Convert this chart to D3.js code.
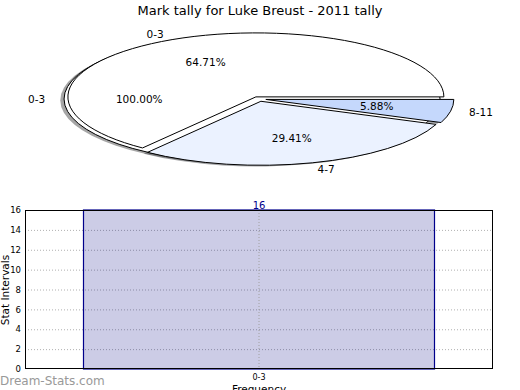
<!DOCTYPE html>
<html><head><meta charset="utf-8">
<script src="https://cdn.jsdelivr.net/npm/d3@7"></script>
<style>body{margin:0;background:#fff}svg{display:block}text{font-family:"DejaVu Sans",sans-serif}</style>
</head><body><svg id="c" width="520" height="390"></svg>
<script>
const title = "Mark tally for Luke Breust - 2011 tally";
const pieCats = ["0-3","4-7","8-11"];
const pieVals = [11, 5, 1];
const pieColors = ["#ffffff","#ebf2ff","#c5d8fc"];
const fullCats = ["0-3"];
const fullVals = [1];
const barCats = ["0-3"];
const barVals = [16];
const yTicks = [0,2,4,6,8,10,12,14,16];

const svg = d3.select("#c");
svg.append("text").attr("x",260).attr("y",15).attr("text-anchor","middle").attr("font-size",13).text(title);

// Pie geometry
const cx = 259, cy = 99, rx = 188, ry = 64, ex = 0.037;
const pie = d3.pie().sort(null).startAngle(Math.PI/2).endAngle(Math.PI/2 - 2*Math.PI);
const arc = d3.arc().innerRadius(0).outerRadius(1);
const fmt = v => v.toFixed(2) + "%";

function layout(cats, vals, colors){
  const total = d3.sum(vals);
  return pie(vals).map((d,i)=>{
    const m = (d.startAngle + d.endAngle)/2;
    const ux = Math.sin(m), uy = -Math.cos(m);
    return {d, cat:cats[i], pct:100*vals[i]/total, color:colors[i],
      ox: cx + ex*rx*ux, oy: cy + ex*ry*uy, ux, uy};
  });
}
const fullL = layout(fullCats, fullVals, ["#ffffff"]);
const mainL = layout(pieCats, pieVals, pieColors);
const all = fullL.concat(mainL);

const shadeG = svg.append("g"), wedgeG = svg.append("g"), labG = svg.append("g");
function shapePath(s){
  if (Math.abs(s.d.endAngle - s.d.startAngle) >= 2*Math.PI - 1e-6) {
    return d3.arc().innerRadius(0).outerRadius(1).startAngle(0).endAngle(2*Math.PI)();
  }
  return arc(s.d);
}
all.forEach(s=>{
  const c = d3.color(s.color);
  shadeG.append("path").attr("d", shapePath(s))
    .attr("transform",`translate(${s.ox-0.02*rx},${s.oy+0.02*ry}) scale(${rx},${ry})`)
    .attr("fill", d3.rgb(c.r*0.3,c.g*0.3,c.b*0.3)).attr("fill-opacity",0.5);
});
all.forEach(s=>{
  wedgeG.append("path").attr("d", shapePath(s))
    .attr("transform",`translate(${s.ox},${s.oy}) scale(${rx},${ry})`)
    .attr("fill", s.color).attr("stroke","#000").attr("stroke-width",1)
    .attr("vector-effect","non-scaling-stroke").attr("stroke-linejoin","miter");
});
all.forEach(s=>{
  const lx = s.ox + 1.1*rx*s.ux, ly = s.oy + 1.1*ry*s.uy;
  labG.append("text").attr("x",lx).attr("y",ly).attr("dy","0.35em")
    .attr("text-anchor", s.ux > 0 ? "start" : "end").attr("font-size",10.5).text(s.cat);
  const px = s.ox + 0.6*rx*s.ux, py = s.oy + 0.6*ry*s.uy;
  labG.append("text").attr("x",px).attr("y",py).attr("dy","0.35em")
    .attr("text-anchor","middle").attr("font-size",10.5).text(fmt(s.pct));
});

// Bar chart
const L = 25, R = 493, T = 210, B = 369;
const x = d3.scaleBand().domain(barCats).range([L,R]).paddingInner(0.25).paddingOuter(0.125);
const y = d3.scaleLinear().domain([0,16]).range([B,T]);
const g = svg.append("g");
g.selectAll("line.hg").data(yTicks.filter(t=>t>0 && t<16)).enter().append("line")
  .attr("x1",L).attr("x2",R).attr("y1",d=>y(d)+0.5).attr("y2",d=>y(d)+0.5)
  .attr("stroke","#b0b0b0").attr("stroke-dasharray","1,2");
g.selectAll("rect.bar").data(barVals).enter().append("rect")
  .attr("x",(d,i)=>x(barCats[i])).attr("width",x.bandwidth())
  .attr("y",d=>y(d)).attr("height",d=>B-y(d))
  .attr("fill","rgba(0,0,128,0.2)").attr("stroke","#00008b").attr("stroke-width",1.2);
g.selectAll("line.vg").data(barCats).enter().append("line")
  .attr("x1",d=>x(d)+x.bandwidth()/2).attr("x2",d=>x(d)+x.bandwidth()/2)
  .attr("y1",T).attr("y2",B).attr("stroke","#a0a0a0").attr("stroke-dasharray","1,2");
g.selectAll("text.val").data(barVals).enter().append("text")
  .attr("x",(d,i)=>x(barCats[i])+x.bandwidth()/2).attr("y",d=>y(d)-1)
  .attr("text-anchor","middle").attr("font-size",10).attr("fill","#00008b").text(d=>d);
g.append("rect").attr("x",L+0.5).attr("y",T+0.5).attr("width",R-L-1).attr("height",B-T-1)
  .attr("fill","none").attr("stroke","#000").attr("stroke-width",1);
const ya = d3.axisLeft(y).tickValues(yTicks).tickSize(0).tickPadding(4);
const yg = g.append("g").attr("transform",`translate(${L},0)`).call(ya);
yg.select(".domain").remove();
yg.selectAll("text").attr("font-size",8.5).attr("font-family","DejaVu Sans Condensed, DejaVu Sans").attr("fill","#000");
const xa = d3.axisBottom(x).tickSize(0).tickPadding(5);
const xg = g.append("g").attr("transform",`translate(0,${B})`).call(xa);
xg.select(".domain").remove();
xg.selectAll("text").attr("font-size",8).attr("font-family","DejaVu Sans Condensed, DejaVu Sans").attr("fill","#000");
svg.append("text").attr("x",259).attr("y",393).attr("text-anchor","middle").attr("font-size",10.5).text("Frequency");
svg.append("text").attr("transform","translate(9,290) rotate(-90)").attr("text-anchor","middle").attr("font-size",10.5).text("Stat Intervals");
svg.append("text").attr("x",0).attr("y",385).attr("font-size",12).attr("fill","#999999").text("Dream-Stats.com");
</script></body></html>
